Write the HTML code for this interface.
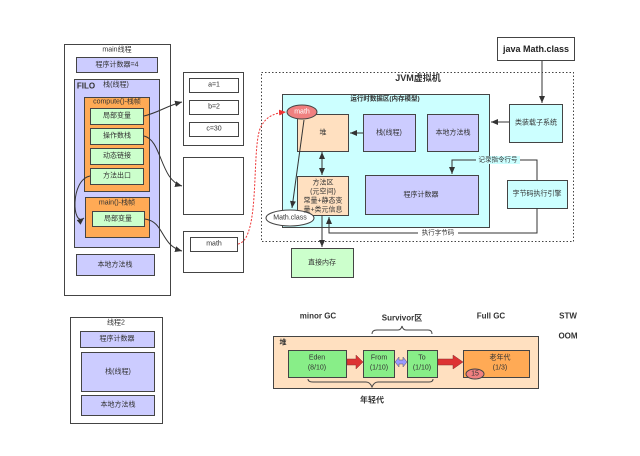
<!DOCTYPE html>
<html><head><meta charset="utf-8"><style>
html,body{margin:0;padding:0;background:#fff;}
svg{display:block;}
text{font-family:"Liberation Sans","Noto Sans CJK SC",sans-serif;font-size:7px;fill:#333;text-anchor:middle;dominant-baseline:central;}
.b{font-weight:bold;}
</style></head><body>
<svg width="640" height="456" viewBox="0 0 640 456" xmlns="http://www.w3.org/2000/svg">
<defs>
<marker id="ar" markerWidth="8" markerHeight="8" refX="7" refY="4" orient="auto" markerUnits="userSpaceOnUse"><path d="M0,1 L7,4 L0,7 Z" fill="#333"/></marker>
<marker id="arr" markerWidth="8" markerHeight="8" refX="7" refY="4" orient="auto" markerUnits="userSpaceOnUse"><path d="M0,1 L7,4 L0,7 Z" fill="#e33"/></marker>
</defs>
<g stroke="#444" stroke-width="1">
<rect x="64.5" y="44.5" width="106" height="251" fill="#fff"/>
<rect x="76.5" y="57.5" width="81" height="15" fill="#ccccff"/>
<rect x="74.5" y="79.5" width="85" height="168" fill="#ccccff"/>
<rect x="84.5" y="97.5" width="65" height="94" fill="#ffaa55"/>
<rect x="90.5" y="108.5" width="53" height="16" fill="#ccffcc"/>
<rect x="90.5" y="128.5" width="53" height="16" fill="#ccffcc"/>
<rect x="90.5" y="148.5" width="53" height="16" fill="#ccffcc"/>
<rect x="90.5" y="168.5" width="53" height="16" fill="#ccffcc"/>
<rect x="85.5" y="197.5" width="64" height="40" fill="#ffaa55"/>
<rect x="92.5" y="211.5" width="52" height="15" fill="#ccffcc"/>
<rect x="76.5" y="254.5" width="78" height="21" fill="#ccccff"/>
<rect x="183.5" y="72.5" width="60" height="73" fill="#fff"/>
<rect x="189.5" y="78.5" width="49" height="14" fill="#fff"/>
<rect x="189.5" y="100.5" width="49" height="14" fill="#fff"/>
<rect x="189.5" y="122.5" width="49" height="14" fill="#fff"/>
<rect x="183.5" y="157.5" width="60" height="57" fill="#fff"/>
<rect x="183.5" y="231.5" width="60" height="41" fill="#fff"/>
<rect x="190.5" y="237.5" width="47" height="14" fill="#fff"/>
<rect x="70.5" y="317.5" width="92" height="106" fill="#fff"/>
<rect x="80.5" y="331.5" width="74" height="16" fill="#ccccff"/>
<rect x="81.5" y="352.5" width="73" height="39" fill="#ccccff"/>
<rect x="81.5" y="395.5" width="73" height="20" fill="#ccccff"/>
<rect x="261.5" y="72.5" width="312" height="169" fill="none" stroke-dasharray="1.5,2"/>
<rect x="282.5" y="94.5" width="207" height="133" fill="#ccffff"/>
<rect x="297.5" y="114.5" width="51" height="37" fill="#ffe0c0"/>
<rect x="363.5" y="114.5" width="52" height="37" fill="#ccccff"/>
<rect x="427.5" y="114.5" width="51" height="37" fill="#ccccff"/>
<rect x="297.5" y="176.5" width="51" height="39" fill="#ffe0c0"/>
<rect x="365.5" y="175.5" width="113" height="39" fill="#ccccff"/>
<rect x="509.5" y="104.5" width="53" height="38" fill="#ccffff"/>
<rect x="507.5" y="180.5" width="60" height="28" fill="#ccffff"/>
<rect x="497.5" y="37.5" width="77" height="23" fill="#fff"/>
<rect x="291.5" y="248.5" width="62" height="29" fill="#ccffcc"/>
<ellipse cx="302" cy="112" rx="15" ry="7" fill="#f08080"/>
<ellipse cx="290" cy="218" rx="24" ry="8" fill="#fff"/>
<rect x="273.5" y="336.5" width="265" height="52" fill="#ffe0c0"/>
<rect x="288.5" y="350.5" width="58" height="27" fill="#88ee88"/>
<rect x="363.5" y="350.5" width="31" height="27" fill="#88ee88"/>
<rect x="407.5" y="350.5" width="30" height="27" fill="#88ee88"/>
<rect x="463.5" y="350.5" width="66" height="27" fill="#ffaa55"/>
<ellipse cx="475" cy="374" rx="9" ry="5" fill="#f08080"/>
</g>
<g fill="none" stroke="#333" stroke-width="1">
<path d="M144,116 C160,112 166,106 182,102" marker-end="url(#ar)"/>
<path d="M144,136 C162,140 160,180 182,186" marker-end="url(#ar)"/>
<path d="M90,176 C70,180 72,228 84,218" marker-end="url(#ar)"/>
<path d="M145,219 C165,222 160,245 182,251" marker-end="url(#ar)"/>
<path d="M542,61 L542,103" marker-end="url(#ar)"/>
<path d="M509,122 L491,122" marker-end="url(#ar)"/>
<path d="M363,133 L350,133" marker-end="url(#ar)"/>
<path d="M322,162 L322,175" marker-end="url(#ar)"/>
<path d="M322,165 L322,152" marker-end="url(#ar)"/>
<path d="M537,180 L537,160 L452,160 L452,174" marker-end="url(#ar)"/>
<path d="M537,208 L537,233 L329,233 L329,217" marker-end="url(#ar)"/>
<path d="M322,215 L322,247" marker-end="url(#ar)"/>
<path d="M304,120 L292,208" marker-end="url(#ar)"/>
<path d="M238,244 C262,240 250,140 262,125 C267,116 275,113 286,112" stroke="#e33" stroke-dasharray="2,1.5" marker-end="url(#arr)"/>
<path d="M372,334 Q372,330 377,330 L398,330 Q401,330 402,326 Q403,330 406,330 L428,330 Q432,330 432,334" stroke="#444"/>
<path d="M308,379 Q308,382 313,382 L366,382 Q370,382 372,387 Q374,382 378,382 L429,382 Q433,382 433,379" stroke="#444"/>
</g>
<g fill="#dd3333" stroke="#883333" stroke-width="0.5">
<path d="M347,359 L356,359 L356,355 L363,362 L356,369 L356,365 L347,365 Z"/>
<path d="M438,359 L453,359 L453,355 L463,362 L453,369 L453,365 L438,365 Z"/>
</g>
<path d="M395,362 L399,357 L399,360 L403,360 L403,357 L407,362 L403,367 L403,364 L399,364 L399,367 Z" fill="#9999ff" stroke="#555" stroke-width="0.5"/>
<text x="117" y="50">main线程</text>
<text x="117" y="65">程序计数器=4</text>
<text x="86" y="86" class="b" style="font-size:8px">FILO</text>
<text x="116" y="85">栈(线程)</text>
<text x="117" y="102">compute()-栈帧</text>
<text x="117" y="116">局部变量</text>
<text x="117" y="136">操作数栈</text>
<text x="117" y="156">动态链接</text>
<text x="117" y="176">方法出口</text>
<text x="117" y="203">main()-栈帧</text>
<text x="118" y="219">局部变量</text>
<text x="115" y="265">本地方法栈</text>
<text x="214" y="85">a=1</text>
<text x="214" y="107">b=2</text>
<text x="214" y="129">c=30</text>
<text x="214" y="244">math</text>
<text x="116" y="323">线程2</text>
<text x="117" y="339">程序计数器</text>
<text x="118" y="372">栈(线程)</text>
<text x="118" y="405">本地方法栈</text>
<text x="418" y="78" class="b" style="font-size:9px">JVM虚拟机</text>
<text x="385" y="99" style="font-size:6.5px" class="b">运行时数据区(内存模型)</text>
<text x="302" y="112" style="fill:#fff">math</text>
<text x="323" y="133">堆</text>
<text x="389" y="133">栈(线程)</text>
<text x="453" y="133">本地方法栈</text>
<text x="323" y="183">方法区</text>
<text x="323" y="192">(元空间)</text>
<text x="323" y="201">常量+静态变</text>
<text x="323" y="210">量+类元信息</text>
<text x="290" y="218">Math.class</text>
<text x="421" y="195">程序计数器</text>
<text x="536" y="123">类装载子系统</text>
<text x="537" y="194">字节码执行引擎</text>
<text x="536" y="49" class="b" style="font-size:9px;fill:#222">java Math.class</text>
<text x="322" y="263">直接内存</text>
<rect x="476" y="156" width="44" height="8" fill="#ccffff"/>
<text x="498" y="160" style="font-size:6.5px">记录指令行号</text>
<rect x="418" y="229" width="40" height="8" fill="#fff"/>
<text x="438" y="233" style="font-size:6.5px">执行字节码</text>
<text x="318" y="316" class="b" style="font-size:8px">minor GC</text>
<text x="402" y="318" class="b" style="font-size:8px">Survivor区</text>
<text x="491" y="316" class="b" style="font-size:8px">Full GC</text>
<text x="568" y="316" class="b" style="font-size:8px">STW</text>
<text x="568" y="336" class="b" style="font-size:8px">OOM</text>
<text x="283" y="343" class="b">堆</text>
<text x="317" y="358">Eden</text>
<text x="317" y="368">(8/10)</text>
<text x="379" y="358">From</text>
<text x="379" y="368">(1/10)</text>
<text x="422" y="358">To</text>
<text x="422" y="368">(1/10)</text>
<text x="500" y="358">老年代</text>
<text x="500" y="368">(1/3)</text>
<text x="475" y="374">15</text>
<text x="372" y="400" class="b" style="font-size:8px">年轻代</text>
</svg>
</body></html>
